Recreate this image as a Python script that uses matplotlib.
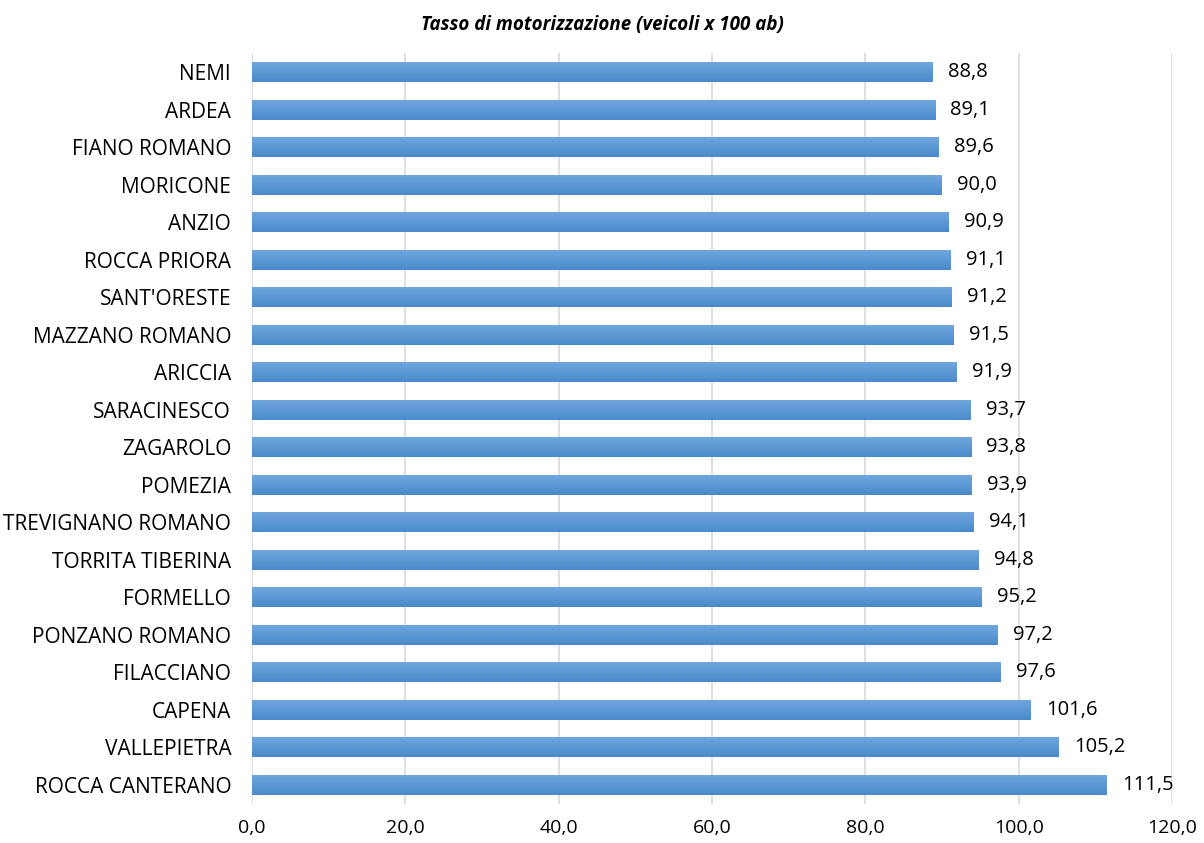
import matplotlib
matplotlib.use('Agg')
import matplotlib.pyplot as plt
import numpy as np

plt.rcParams['font.family'] = ['Open Sans', 'DejaVu Sans']

comuni = ['NEMI', 'ARDEA', 'FIANO ROMANO', 'MORICONE', 'ANZIO', 'ROCCA PRIORA',
          "SANT'ORESTE", 'MAZZANO ROMANO', 'ARICCIA', 'SARACINESCO', 'ZAGAROLO',
          'POMEZIA', 'TREVIGNANO ROMANO', 'TORRITA TIBERINA', 'FORMELLO',
          'PONZANO ROMANO', 'FILACCIANO', 'CAPENA', 'VALLEPIETRA', 'ROCCA CANTERANO']
tasso = [88.8, 89.1, 89.6, 90.0, 90.9, 91.1, 91.2, 91.5, 91.9, 93.7, 93.8,
         93.9, 94.1, 94.8, 95.2, 97.2, 97.6, 101.6, 105.2, 111.5]
xticks = [0, 20, 40, 60, 80, 100, 120]

fig = plt.figure(figsize=(12.04, 8.43), dpi=100)
ax = fig.add_axes([0.2093, 0.0466, 0.7641, 0.8902])

y = np.arange(len(comuni))
bars = ax.barh(y, tasso, height=0.53, color='#5b9bd5', zorder=2)

# vertical gradient on each bar (lighter top, darker bottom)
grad = np.linspace(0, 1, 50).reshape(-1, 1)
cmap = matplotlib.colors.LinearSegmentedColormap.from_list('g', ['#6fa6dd', '#4a8acb'])
for b in bars:
    x0, y0, w, h = b.get_x(), b.get_y(), b.get_width(), b.get_height()
    ax.imshow(grad, extent=[x0, x0 + w, y0 + h, y0], cmap=cmap, aspect='auto', zorder=3)
    b.set_alpha(0)

for yi, v in zip(y, tasso):
    ax.text(v + 2.0, yi, f'{v:.1f}'.replace('.', ','), va='center', ha='left',
            fontsize=14.5, color='#000000')

ax.set_xlim(0, 120)
ax.set_ylim(len(comuni) - 0.5, -0.5)
ax.set_xticks(xticks)
ax.set_xticklabels([f'{t:.1f}'.replace('.', ',') for t in xticks], fontsize=14)
ax.set_yticks(y)
ax.set_yticklabels(comuni, fontsize=15)
ax.tick_params(length=0)
ax.tick_params(axis='y', pad=15)
ax.tick_params(axis='x', pad=11)
ax.xaxis.grid(True, color='#d9d9d9', linewidth=1.2, zorder=0)
for s in ax.spines.values():
    s.set_visible(False)

fig.text(0.5, 0.97, 'Tasso di motorizzazione (veicoli x 100 ab)', ha='center', va='center',
         fontsize=13.5, fontstyle='italic', fontweight='bold')

fig.savefig('out.png', dpi=100)
